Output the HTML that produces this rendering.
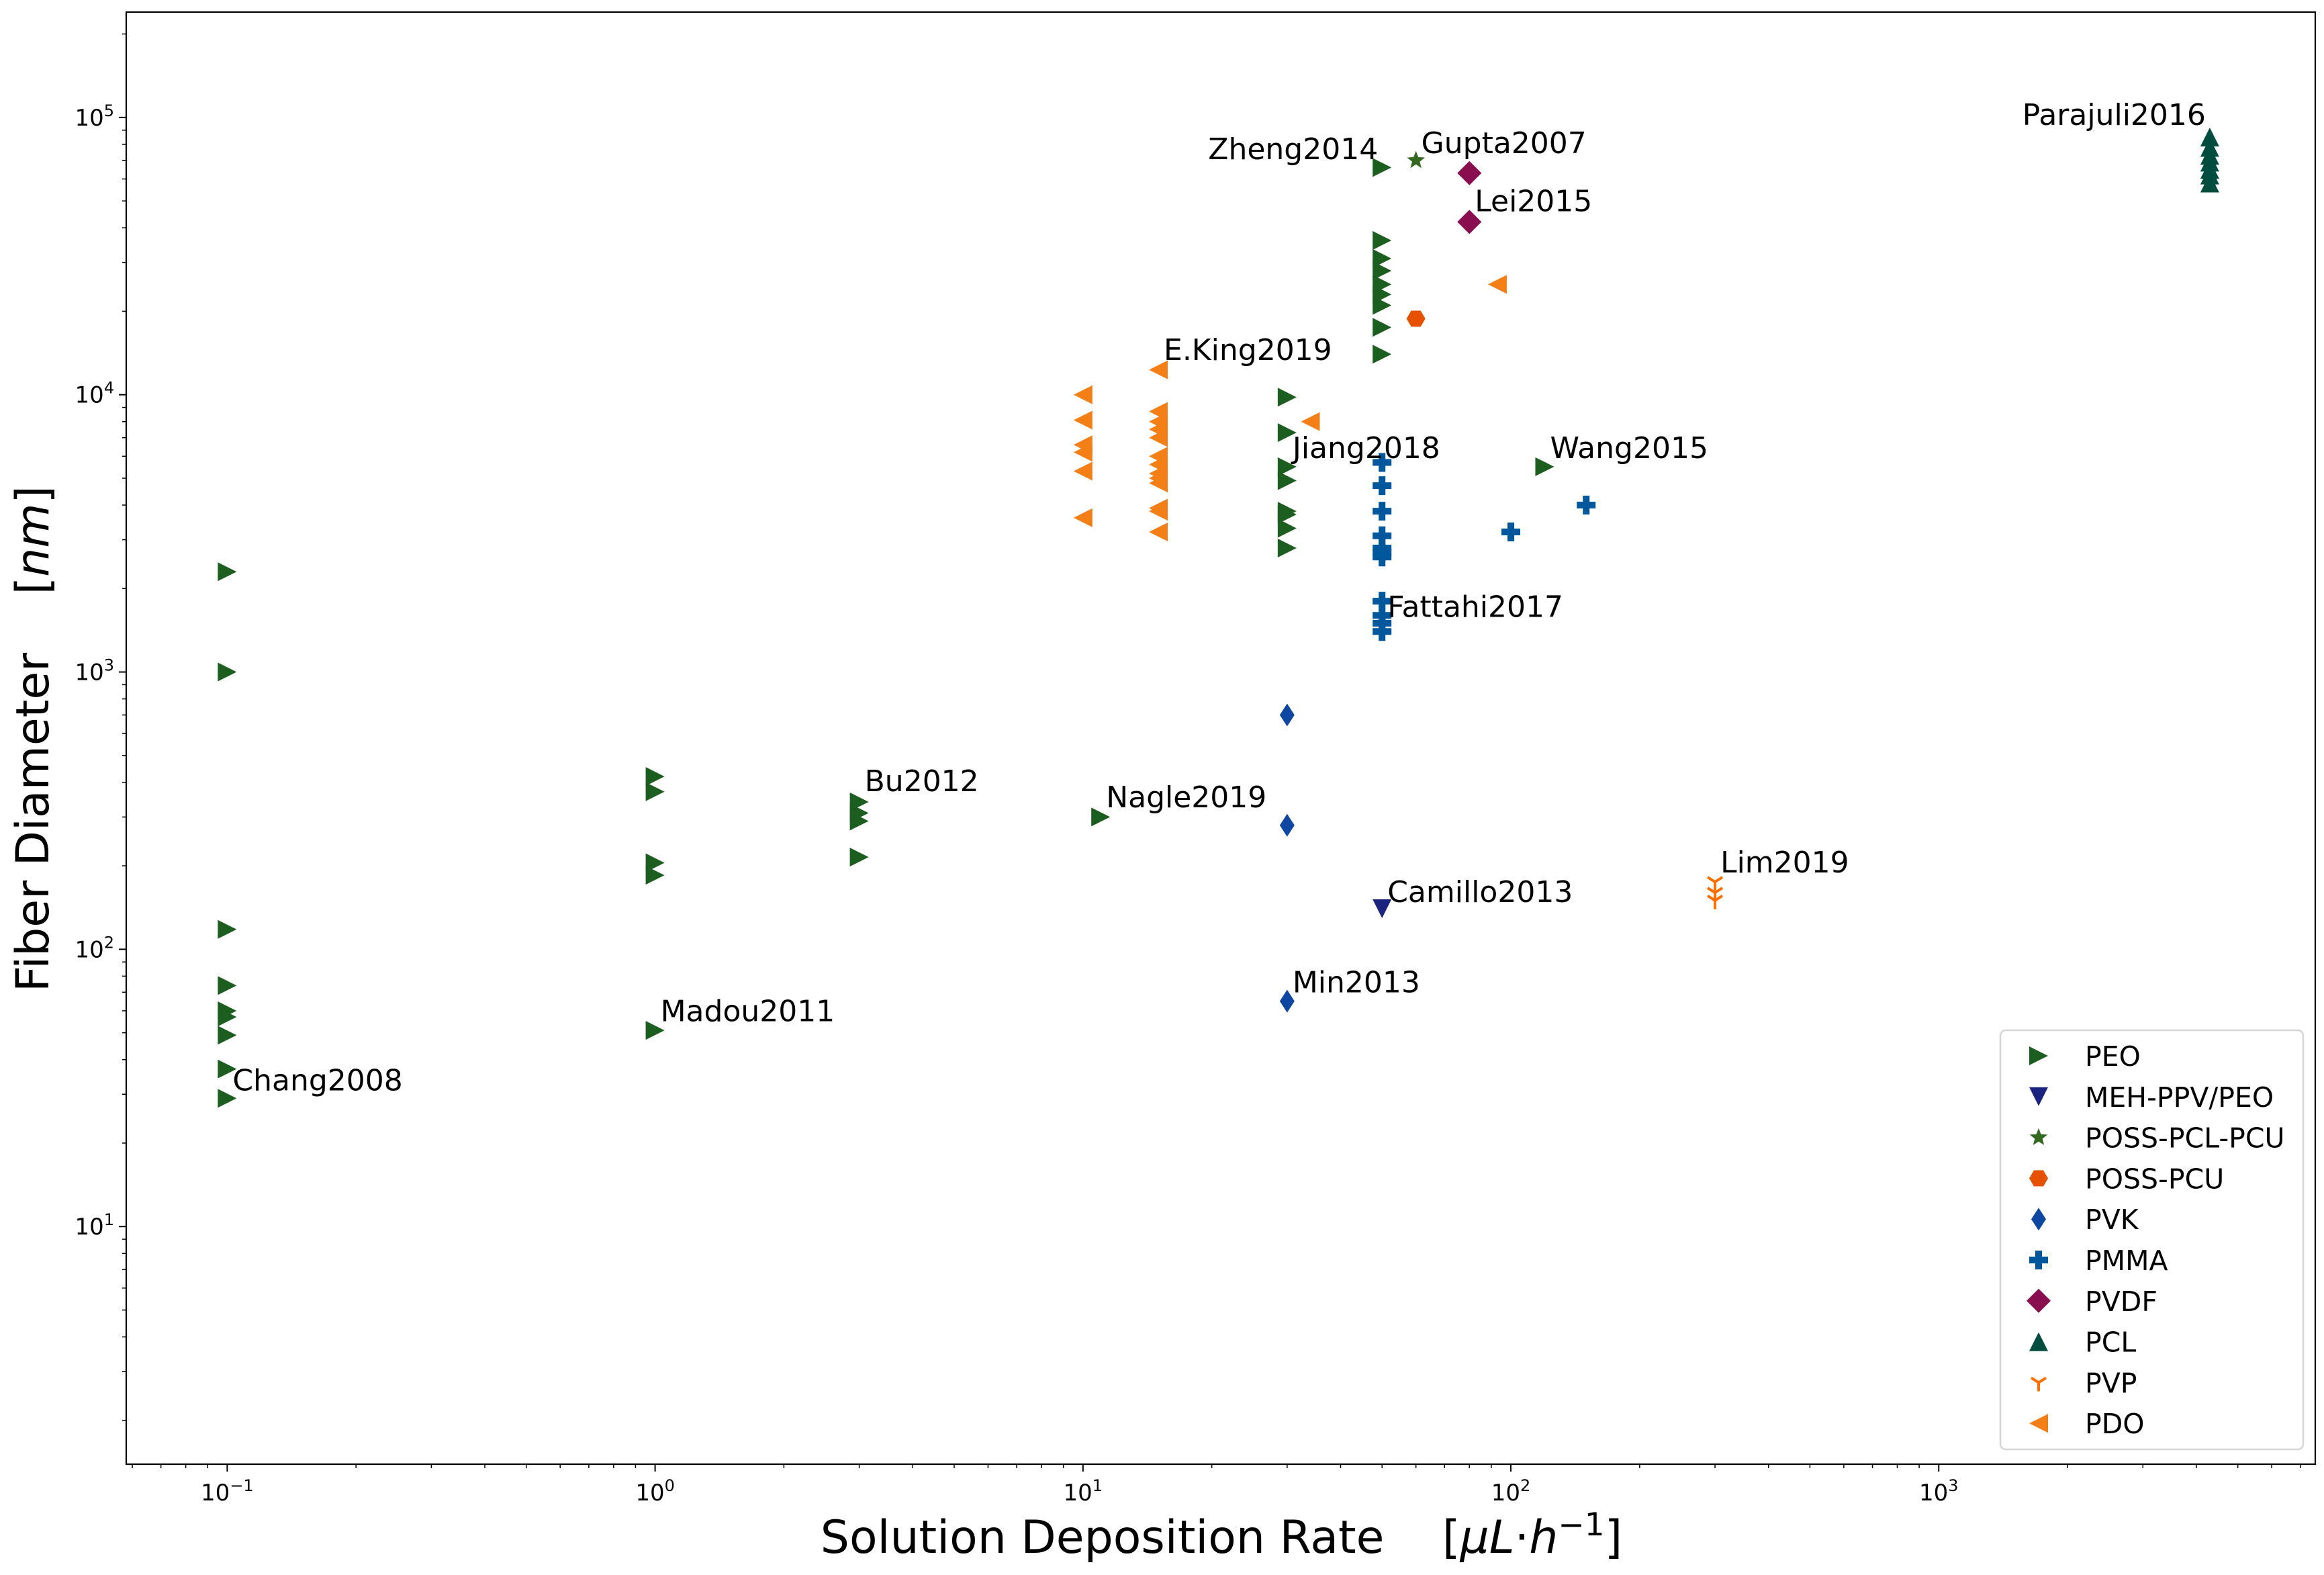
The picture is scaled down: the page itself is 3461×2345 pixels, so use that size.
<!DOCTYPE html>
<html><head><meta charset="utf-8"><style>
html,body{margin:0;padding:0;background:#fff}
svg{display:block;font-family:"DejaVu Sans","Liberation Sans",sans-serif}
</style></head><body>
<svg id="chart" width="3461" height="2345" viewBox="0 0 3461 2345" xmlns="http://www.w3.org/2000/svg">
<rect width="3461" height="2345" fill="#fff"/>
<g id="marks"></g>
<g id="axes"></g>
<g id="notes"></g>
<g id="legend"></g>
</svg>
<script>
// ---- data ----
const peoX = [0.1,0.1,0.1,0.1,0.1,0.1,0.1,0.1,0.1, 1,1,1,1,1, 3,3,3,3, 11, 30,30,30,30,30,30,30,30, 50,50,50,50,50,50,50,50,50, 120];
const peoY = [2300,1000,118,74,60,57,49,37,29, 420,370,205,185,51, 340,310,290,215, 300, 9800,7300,5500,4900,3800,3700,3300,2800, 66000,36000,31000,28000,25000,23000,21000,17500,14000, 5500];
const mehX = [50]; const mehY = [140];
const possPclX = [60]; const possPclY = [70000];
const possPcuX = [60]; const possPcuY = [18800];
const pvkX = [30,30,30]; const pvkY = [700,280,65];
const pmmaX = [50,50,50,50,50,50,50,50,50,50,50,100,150];
const pmmaY = [5700,4700,3800,3100,2800,2700,2600,1800,1600,1500,1400,3200,4000];
const pvdfX = [80,80]; const pvdfY = [63000,42000];
const pclX = [4300,4300,4300,4300,4300,4300,4300];
const pclY = [85000,78000,73000,69000,65000,62000,58000];
const pvpX = [300,300,300]; const pvpY = [175,160,150];
const pdoX = [10,10,10,10,10,10, 15,15,15,15,15,15,15,15,15,15,15,15,15, 34, 93];
const pdoY = [10000,8100,6600,6200,5300,3600, 12300,8700,8000,7500,7000,6000,5600,5200,5000,4800,3900,3800,3200, 8000, 25000];
const noteText = ["Chang2008","Madou2011","Bu2012","Nagle2019","Min2013","Camillo2013","Fattahi2017","Jiang2018","E.King2019","Zheng2014","Gupta2007","Lei2015","Wang2015","Lim2019","Parajuli2016"];
const noteX = [0.1,1,3,11,30,50,50,30,15,50,60,80,120,300,4300];
const noteY = [31,55,372,325,70,148,1580,5910,13360,70800,74300,45900,5910,189,94000];
const noteAnchor = ["start","start","start","start","start","start","start","start","start","end","start","start","start","start","end"];
const xTicks = [-1,0,1,2,3];
const yTicks = [1,2,3,4,5];

// ---- axes ----
const L=188,R=3448,T=18,B=2180;
const xmin=-1.236,xmax=3.88,ymin=0.143,ymax=5.38;
const sx=v=>L+(Math.log10(v)-xmin)/(xmax-xmin)*(R-L);
const sy=v=>B-(Math.log10(v)-ymin)/(ymax-ymin)*(B-T);
const NS="http://www.w3.org/2000/svg";
function mk(tag,attrs,parent){const e=document.createElementNS(NS,tag);for(const k in attrs)e.setAttribute(k,attrs[k]);parent.appendChild(e);return e;}
const marks=document.getElementById('marks'),axes=document.getElementById('axes'),notes=document.getElementById('notes'),legend=document.getElementById('legend');

function shape(type,cx,cy,color,parent){
  const s=14;let e;
  if(type==='right') e=mk('polygon',{points:`${cx-s},${cy-s} ${cx+s},${cy} ${cx-s},${cy+s}`,fill:color},parent);
  else if(type==='left') e=mk('polygon',{points:`${cx+s},${cy-s} ${cx-s},${cy} ${cx+s},${cy+s}`,fill:color},parent);
  else if(type==='down') e=mk('polygon',{points:`${cx-s},${cy-s} ${cx+s},${cy-s} ${cx},${cy+s}`,fill:color},parent);
  else if(type==='up') e=mk('polygon',{points:`${cx-s},${cy+s} ${cx+s},${cy+s} ${cx},${cy-s}`,fill:color},parent);
  else if(type==='thin') e=mk('polygon',{points:`${cx},${cy-17} ${cx+11},${cy} ${cx},${cy+17} ${cx-11},${cy}`,fill:color},parent);
  else if(type==='diamond') e=mk('polygon',{points:`${cx},${cy-18} ${cx+18},${cy} ${cx},${cy+18} ${cx-18},${cy}`,fill:color},parent);
  else if(type==='hex') e=mk('polygon',{points:`${cx-14},${cy} ${cx-7},${cy-12} ${cx+7},${cy-12} ${cx+14},${cy} ${cx+7},${cy+12} ${cx-7},${cy+12}`,fill:color},parent);
  else if(type==='plus') e=mk('path',{d:`M${cx-5},${cy-14}h10v9h9v10h-9v9h-10v-9h-9v-10h9z`,fill:color},parent);
  else if(type==='star'){let p=[];for(let i=0;i<10;i++){const r=i%2?6:14,a=-Math.PI/2+i*Math.PI/5;p.push((cx+r*Math.cos(a)).toFixed(1)+','+(cy+r*Math.sin(a)).toFixed(1));}e=mk('polygon',{points:p.join(' '),fill:color},parent);}
  else if(type==='tri'){e=mk('path',{d:`M${cx},${cy} v13 M${cx},${cy} l-11,-7 M${cx},${cy} l11,-7`,stroke:color,'stroke-width':4,fill:'none'},parent);}
  return e;
}

const series=[
 {name:'PEO',x:peoX,y:peoY,type:'right',color:'#1b5e20'},
 {name:'MEH-PPV/PEO',x:mehX,y:mehY,type:'down',color:'#1a237e'},
 {name:'POSS-PCL-PCU',x:possPclX,y:possPclY,type:'star',color:'#33691e'},
 {name:'POSS-PCU',x:possPcuX,y:possPcuY,type:'hex',color:'#e65100'},
 {name:'PVK',x:pvkX,y:pvkY,type:'thin',color:'#0d47a1'},
 {name:'PMMA',x:pmmaX,y:pmmaY,type:'plus',color:'#01579b'},
 {name:'PVDF',x:pvdfX,y:pvdfY,type:'diamond',color:'#880e4f'},
 {name:'PCL',x:pclX,y:pclY,type:'up',color:'#004d40'},
 {name:'PVP',x:pvpX,y:pvpY,type:'tri',color:'#ff6f00'},
 {name:'PDO',x:pdoX,y:pdoY,type:'left',color:'#f57f17'}
];
series.forEach(s=>{
  for(let i=0;i<s.x.length;i++){
    const e=shape(s.type,sx(s.x[i]),sy(s.y[i]),s.color,marks);
    
    
  }
});

// frame
const fr=mk('rect',{x:L,y:T,width:R-L,height:B-T,fill:'none',stroke:'#000','stroke-width':2.2},axes);


// x ticks
for(let d=-2;d<=4;d++){for(let m=1;m<10;m++){const v=m*Math.pow(10,d);const lv=Math.log10(v);if(lv<xmin||lv>xmax)continue;const x=sx(v);mk('line',{x1:x,x2:x,y1:B,y2:B+(m===1?11:6),stroke:'#000','stroke-width':m===1?2:1.5},axes);}}
xTicks.forEach(t=>{const x=sx(Math.pow(10,t));const g=mk('text',{x:x,y:B+54,'text-anchor':'middle','font-size':34},axes);
 
 
 g.innerHTML='10<tspan dy="-14" font-size="24">'+(t<0?'\u2212'+(-t):t)+'</tspan>';});
// y ticks
for(let d=0;d<=6;d++){for(let m=1;m<10;m++){const v=m*Math.pow(10,d);const lv=Math.log10(v);if(lv<ymin||lv>ymax)continue;const y=sy(v);mk('line',{x1:L,x2:L-(m===1?11:6),y1:y,y2:y,stroke:'#000','stroke-width':m===1?2:1.5},axes);}}
yTicks.forEach(t=>{const y=sy(Math.pow(10,t));const g=mk('text',{x:L-18,y:y+12,'text-anchor':'end','font-size':34},axes);
 
 
 g.innerHTML='10<tspan dy="-14" font-size="24">'+t+'</tspan>';});
// axis titles
const xt=mk('text',{x:1819,y:2312,'text-anchor':'middle','font-size':68},axes);


xt.innerHTML='Solution Deposition Rate\u00a0\u00a0\u00a0\u00a0[<tspan font-style="italic">\u03bcL</tspan>\u00b7<tspan font-style="italic">h</tspan><tspan dy="-26" font-size="47">\u22121</tspan><tspan dy="26">]</tspan>';
const yt=mk('text',{x:0,y:0,'text-anchor':'middle','font-size':68,transform:'translate(72,1100) rotate(-90)'},axes);


yt.innerHTML='Fiber Diameter\u00a0\u00a0\u00a0\u00a0[<tspan font-style="italic">nm</tspan>]';

// annotations
noteText.forEach((t,i)=>{const e=mk('text',{x:sx(noteX[i])+(noteAnchor[i]==='end'?-6:8),y:sy(noteY[i]),'font-size':44,'text-anchor':noteAnchor[i]},notes);
 
 
 e.textContent=t;});

// legend
const lb=mk('rect',{x:2979,y:1534,width:451,height:624,rx:8,fill:'#fff','fill-opacity':0.8,stroke:'#d6d6d6','stroke-width':2.5},legend);


series.forEach((s,i)=>{const y=1572+i*60.8;
 const m=shape(s.type,3036,y,s.color,legend);
 
 
 const t=mk('text',{x:3105,y:y+15,'font-size':41},legend);
 
 
 t.textContent=s.name;});
</script>
</body></html>
